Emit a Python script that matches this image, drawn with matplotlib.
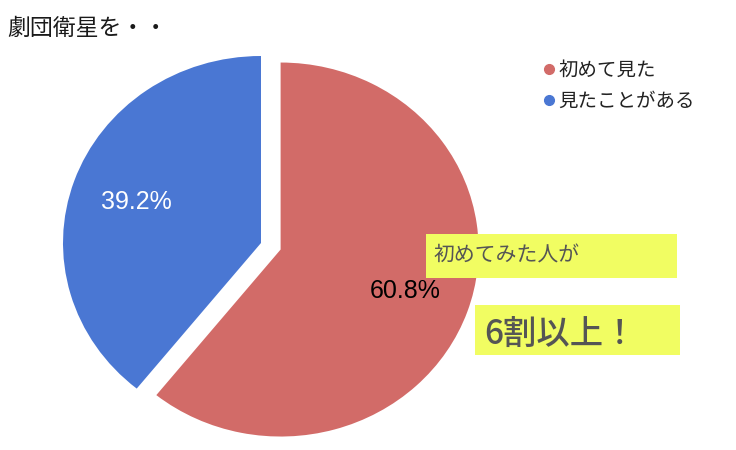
import matplotlib.pyplot as plt
from matplotlib.lines import Line2D
from matplotlib.patches import Rectangle

labels = ['初めて見た', '見たことがある']
values = [60.8, 39.2]
title = '劇団衛星を・・'
note1 = '初めてみた人が'
note2 = '6割以上！'

colors = ['#D26B68', '#4A77D3']
yellow = '#F1FD62'
W, H = 736, 450

plt.rcParams['font.family'] = ['Noto Sans CJK JP', 'DejaVu Sans']

fig = plt.figure(figsize=(W / 100, H / 100), dpi=100)
ax = fig.add_axes([0, 0, 1, 1])


def fx(x):
    return x / W


def fy(y):
    return 1 - y / H


wedges, texts, autotexts = ax.pie(values, colors=colors, startangle=90, counterclock=False,
                                  explode=[0.105, 0], autopct='%.1f%%', pctdistance=0.665,
                                  wedgeprops=dict(linewidth=0),
                                  textprops=dict(fontsize=18, family=['Liberation Sans']))
autotexts[0].set_color('black')
autotexts[1].set_color('white')

# pie slightly stretched horizontally, like the screenshot
cx, cy, rx, ry = 261, 243, 198, 187
ax.set_aspect('auto')
ax.set_xlim(-cx / rx, (W - cx) / rx)
ax.set_ylim((cy - H) / ry, cy / ry)
ax.axis('off')

fig.text(fx(7), fy(28), title, fontsize=16.5, color='#1a1a1a', va='center', ha='left')

handles = [Line2D([], [], marker='o', linestyle='none', color=c, markersize=7) for c in colors]
fig.legend(handles, labels, loc='upper left', bbox_to_anchor=(fx(532), fy(52)),
           frameon=False, fontsize=14, handletextpad=0.05, labelspacing=0.5,
           handlelength=0.9, borderaxespad=0, labelcolor='#222222')

fig.patches.append(Rectangle((fx(426), fy(278)), fx(677 - 426), (278 - 234) / H,
                             transform=fig.transFigure, facecolor=yellow, edgecolor='none'))
fig.patches.append(Rectangle((fx(475), fy(355)), fx(680 - 475), (355 - 305) / H,
                             transform=fig.transFigure, facecolor=yellow, edgecolor='none'))
fig.text(fx(434), fy(256), note1, fontsize=15, color='#555555', va='center', ha='left')
fig.text(fx(484), fy(334), note2, fontsize=24, color='#555555', va='center', ha='left',
         fontweight='medium')

fig.savefig('out.png', dpi=100)
